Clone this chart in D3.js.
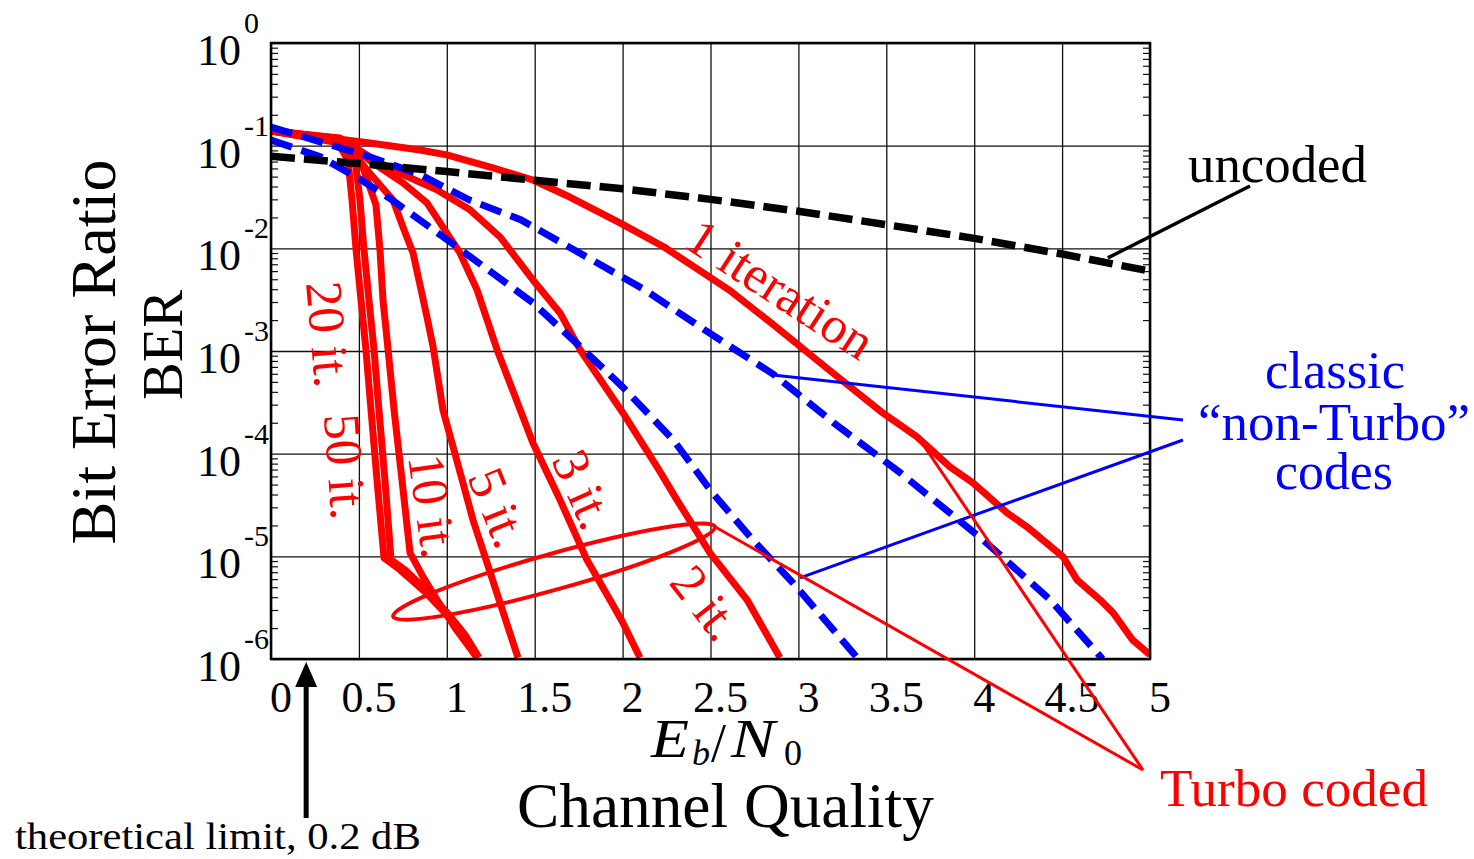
<!DOCTYPE html>
<html><head><meta charset="utf-8">
<script src="https://cdn.jsdelivr.net/npm/d3@7"></script>
<style>
body{margin:0;background:#fff}
</style>
</head><body>
<svg id="c" width="1474" height="859"></svg>
<script>
// ---------- axis definitions ----------
const xTickValues = [0,0.5,1,1.5,2,2.5,3,3.5,4,4.5,5];
const xTickLabels = ["0","0.5","1","1.5","2","2.5","3","3.5","4","4.5","5"];
const yDecades = [1,1e-1,1e-2,1e-3,1e-4,1e-5,1e-6];
const yExponents = ["0","-1","-2","-3","-4","-5","-6"];

// ---------- data (Eb/N0 in dB, BER) ----------
const uncodedX   = [0,0.5,1,1.5,2,2.5,3,3.5,4,4.5,5];
const uncodedBer = [0.079,0.067,0.056,0.046,0.038,0.030,0.023,0.017,0.0125,0.0088,0.006];

const classicAX   = [0,0.28,0.56,0.85,1.13,1.42,1.70,2.12,2.48,2.86,3.20,3.58,4.05,4.43,4.73];
const classicABer = [0.152,0.109,0.078,0.052,0.0295,0.019,0.0102,0.004,0.00155,5.9e-4,2.0e-4,6.5e-5,1.45e-5,3.8e-6,1.0e-6];

const classicBX   = [0,0.28,0.51,0.69,0.98,1.26,1.49,1.76,2.0,2.29,2.51,2.74,2.97,3.33];
const classicBBer = [0.1135,0.078,0.0468,0.0295,0.0129,0.00575,0.00295,0.0011,4.47e-4,1.35e-4,4.17e-5,1.45e-5,5.5e-6,1.05e-6];

const it1X   = [0,0.28,0.563,0.848,1.0,1.263,1.49,1.70,1.985,2.236,2.605,2.844,3.174,3.48,3.675,3.862,3.993,4.187,4.30,4.505,4.585,4.716,4.79,4.90,5.0];
const it1Ber = [0.142,0.122,0.106,0.0908,0.0813,0.0607,0.0463,0.0316,0.0177,0.0103,0.00394,0.00188,6.55e-4,2.49e-4,1.46e-4,7.45e-5,5.2e-5,2.65e-5,1.94e-5,9.9e-6,5.9e-6,3.77e-6,2.82e-6,1.54e-6,1.1e-6];

const it2X   = [0,0.392,0.563,0.694,0.944,1.132,1.303,1.49,1.644,1.758,2.002,2.196,2.309,2.497,2.708,2.895];
const it2Ber = [0.139,0.119,0.0776,0.0579,0.0371,0.0237,0.0129,0.00492,0.00235,0.00103,2.49e-4,7.45e-5,3.55e-5,1.08e-5,3.77e-6,1.03e-6];

const it3X   = [0,0.449,0.58,0.751,0.887,0.978,1.075,1.172,1.286,1.49,1.644,1.797,1.928,2.002,2.099];
const it3Ber = [0.139,0.102,0.0679,0.0434,0.0277,0.0161,0.00902,0.00394,0.00103,1.27e-4,3.55e-5,9.25e-6,3.77e-6,2.25e-6,1.03e-6];

const it5X   = [0,0.421,0.546,0.694,0.751,0.808,0.887,0.922,0.978,1.092,1.149,1.229,1.303,1.405];
const it5Ber = [0.139,0.106,0.0579,0.0296,0.0161,0.00902,0.00215,0.0011,2.67e-4,5.2e-5,2.26e-5,8.65e-6,3.52e-6,1.03e-6];

const it10X   = [0,0.404,0.518,0.597,0.62,0.637,0.666,0.70,0.745,0.791,0.865,0.944,1.047,1.172];
const it10Ber = [0.139,0.111,0.0649,0.0265,0.00964,0.00315,0.00103,2.67e-4,5.56e-5,1.08e-5,6.31e-6,3.77e-6,2.01e-6,1.03e-6];

const it20X   = [0,0.364,0.438,0.461,0.484,0.512,0.54,0.569,0.603,0.643,0.734,0.876,1.001,1.092,1.172];
const it20Ber = [0.139,0.119,0.0726,0.0296,0.00964,0.00315,0.00103,2.67e-4,5.56e-5,9.66e-6,7.4e-6,4.51e-6,2.69e-6,1.72e-6,1.03e-6];

const it50X   = [0,0.381,0.478,0.506,0.529,0.557,0.586,0.614,0.648,0.683,0.762,0.893,1.013,1.104,1.183];
const it50Ber = [0.139,0.116,0.0726,0.0296,0.00964,0.00315,0.00103,2.67e-4,5.56e-5,9.25e-6,7.4e-6,4.51e-6,2.69e-6,1.72e-6,1.03e-6];

// ---------- font choice (Times-like serif first) ----------
function pickFont(cands){
  const cv = document.createElement("canvas").getContext("2d");
  const s = "Channel Quality 0.123456789 Wg";
  cv.font = "40px monospace"; const wm = cv.measureText(s).width;
  cv.font = "40px sans-serif"; const ws = cv.measureText(s).width;
  for (const f of cands){
    cv.font = `40px "${f}", monospace`; const a = cv.measureText(s).width;
    cv.font = `40px "${f}", sans-serif`; const b = cv.measureText(s).width;
    if (a !== wm && b !== ws && Math.abs(a-b) < 0.01) return `"${f}", serif`;
  }
  return '"Liberation Serif", "Times New Roman", serif';
}
const FONT = pickFont(["Liberation Serif","Times New Roman","Tinos","Times","Nimbus Roman","DejaVu Serif"]);

// ---------- setup ----------
const svg = d3.select("#c").attr("font-family",FONT);
svg.append("rect").attr("width",1474).attr("height",859).attr("fill","#fff");
const X0=271, X1=1150, Y0=43, Y1=659;
const x = d3.scaleLinear().domain([0,5]).range([X0,X1]);
const y = d3.scaleLog().domain([1e-6,1]).range([Y1,Y0]);

// text helper: places text at (px,py), rotated, fitted to a target width
function label(parent, o){
  const t = parent.append("text")
    .attr("font-size",o.size).attr("fill",o.fill||"#000")
    .attr("text-anchor",o.anchor||"start")
    .attr("font-style",o.italic?"italic":null)
    .text(o.t);
  let sx = o.sx || 1;
  if (o.w){ const n = t.node().getComputedTextLength(); if (n>0) sx = o.w/n; }
  t.attr("transform",`translate(${o.px},${o.py}) rotate(${o.r||0}) scale(${sx},1)`);
  return t;
}

// grid
const gx = svg.append("g").attr("transform",`translate(0,${Y1})`)
  .call(d3.axisBottom(x).tickValues(xTickValues).tickSize(-(Y1-Y0)).tickFormat(""));
gx.select(".domain").remove();
gx.selectAll("line").attr("stroke","#111").attr("stroke-width",1.3);
const gy = svg.append("g").attr("transform",`translate(${X0},0)`)
  .call(d3.axisLeft(y).tickValues(yDecades).tickSize(-(X1-X0)).tickFormat(""));
gy.select(".domain").remove();
gy.selectAll("line").attr("stroke","#111").attr("stroke-width",1.3);

// minor ticks
const minorVals = [];
for (let e=-6;e<0;e++) for (let m=2;m<=9;m++) minorVals.push(m*Math.pow(10,e));
const ml = svg.append("g").attr("transform",`translate(${X0},0)`)
  .call(d3.axisLeft(y).tickValues(minorVals).tickSize(-7).tickFormat(""));
ml.select(".domain").remove();
const mr = svg.append("g").attr("transform",`translate(${X1},0)`)
  .call(d3.axisRight(y).tickValues(minorVals).tickSize(-7).tickFormat(""));
mr.select(".domain").remove();
ml.selectAll("line").attr("stroke","#111").attr("stroke-width",1.2);
mr.selectAll("line").attr("stroke","#111").attr("stroke-width",1.2);
svg.selectAll("g.tick text").remove();

// clip
svg.append("clipPath").attr("id","pc").append("rect")
  .attr("x",X0).attr("y",Y0).attr("width",X1-X0).attr("height",Y1-Y0);
const plot = svg.append("g").attr("clip-path","url(#pc)");
const line = d3.line().x(d=>x(d[0])).y(d=>y(d[1]));

// red turbo curves
const redCurves = [[it1X,it1Ber],[it2X,it2Ber],[it3X,it3Ber],[it5X,it5Ber],[it10X,it10Ber],[it20X,it20Ber],[it50X,it50Ber]];
redCurves.forEach(([xs,bs])=>{
  plot.append("path").attr("d",line(d3.zip(xs,bs)))
    .attr("fill","none").attr("stroke","#ff0000").attr("stroke-width",7)
    .attr("stroke-linejoin","round");
});
// blue classic curves
[[classicAX,classicABer],[classicBX,classicBBer]].forEach(([xs,bs])=>{
  plot.append("path").attr("d",line(d3.zip(xs,bs)))
    .attr("fill","none").attr("stroke","#0000ff").attr("stroke-width",7)
    .attr("stroke-dasharray","22,10");
});
// uncoded
plot.append("path").attr("d",line(d3.zip(uncodedX,uncodedBer)))
  .attr("fill","none").attr("stroke","#000").attr("stroke-width",7.5)
  .attr("stroke-dasharray","24,9");

// frame
svg.append("rect").attr("x",X0).attr("y",Y0).attr("width",X1-X0).attr("height",Y1-Y0)
  .attr("fill","none").attr("stroke","#000").attr("stroke-width",2.5);

// tick labels
const tl = svg.append("g");
xTickValues.forEach((v,i)=>label(tl,{t:xTickLabels[i],px:x(v)+10,py:712,size:44,anchor:"middle",w:xTickLabels[i].length===1?22:55}));
yDecades.forEach((v,i)=>{
  const t = tl.append("text").attr("font-size",44)
    .attr("transform",`translate(197,${y(v)+22})`);
  t.append("tspan").text("10");
  t.append("tspan").attr("font-size",30).attr("dx",3).attr("dy",-32).text(yExponents[i]);
});

// axis titles
const tt = svg.append("g");
label(tt,{t:"Bit Error Ratio",px:115,py:352,r:-90,size:64,anchor:"middle",w:385});
label(tt,{t:"BER",px:182,py:345,r:-90,size:57,anchor:"middle",w:110});
label(tt,{t:"E",px:651,py:757,size:54,italic:true,w:38});
label(tt,{t:"b",px:692,py:765,size:36,italic:true});
label(tt,{t:"/",px:711,py:761,size:54});
label(tt,{t:"N",px:731,py:757,size:54,italic:true,w:44});
label(tt,{t:"0",px:784,py:765,size:36});
label(tt,{t:"Channel Quality",px:517,py:827,size:64,w:417});
label(tt,{t:"theoretical limit, 0.2 dB",px:15,py:849,size:38,w:406});

// theoretical limit arrow
const ax = x(0.2);
svg.append("line").attr("x1",ax).attr("x2",ax).attr("y1",818).attr("y2",682)
  .attr("stroke","#000").attr("stroke-width",5);
svg.append("path").attr("d",`M${ax},662 L${ax-11},687 L${ax+11},687 Z`).attr("fill","#000");

// uncoded annotation
label(tt,{t:"uncoded",px:1188,py:182,size:52,w:179});
svg.append("line").attr("x1",x(4.76)).attr("y1",y(8.07e-3)).attr("x2",1250).attr("y2",186)
  .attr("stroke","#000").attr("stroke-width",3.5);

// classic annotation
label(tt,{t:"classic",px:1335,py:388,size:52,anchor:"middle",fill:"#0000ff",w:140});
label(tt,{t:"\u201Cnon-Turbo\u201D",px:1334,py:440,size:52,anchor:"middle",fill:"#0000ff",w:272});
label(tt,{t:"codes",px:1334,py:489,size:52,anchor:"middle",fill:"#0000ff",w:118});
svg.append("line").attr("x1",x(2.855)).attr("y1",y(5.85e-4)).attr("x2",1183).attr("y2",420)
  .attr("stroke","#0000ff").attr("stroke-width",3);
svg.append("line").attr("x1",x(3.009)).attr("y1",y(6.18e-6)).attr("x2",1183).attr("y2",440)
  .attr("stroke","#0000ff").attr("stroke-width",3);

// ellipse and turbo annotation
const ecx = x(1.61), ecy = y(7.1e-6), ea = 167, eang = -15.6;
svg.append("ellipse").attr("cx",ecx).attr("cy",ecy).attr("rx",ea).attr("ry",18)
  .attr("transform",`rotate(${eang} ${ecx} ${ecy})`)
  .attr("fill","none").attr("stroke","#ff0000").attr("stroke-width",4);
const tipX = ecx + ea*Math.cos(eang*Math.PI/180), tipY = ecy + ea*Math.sin(eang*Math.PI/180);
svg.append("line").attr("x1",tipX).attr("y1",tipY).attr("x2",1143).attr("y2",770)
  .attr("stroke","#ff0000").attr("stroke-width",3);
svg.append("line").attr("x1",x(3.68)).attr("y1",y(1.46e-4)).attr("x2",1143).attr("y2",770)
  .attr("stroke","#ff0000").attr("stroke-width",3);
label(tt,{t:"Turbo coded",px:1160,py:806,size:52,fill:"#ff0000",w:268});

// curve labels
const curveLabels = [
  {t:"1 iteration", px:682, py:246, r:33, w:212},
  {t:"2 it.", px:668, py:583, r:52, w:78},
  {t:"3 it.", px:551, py:460, r:66, w:80},
  {t:"5 it.", px:467, py:477, r:68, w:80},
  {t:"10 it.", px:408, py:457, r:82, w:104},
  {t:"50 it.", px:324, py:415, r:86, w:106},
  {t:"20 it.", px:306, py:283, r:85, w:106}
];
const cg = svg.append("g");
curveLabels.forEach(d=>label(cg,{t:d.t,px:d.px,py:d.py,r:d.r,size:52,fill:"#ff0000",w:d.w}));
</script>
</body></html>
